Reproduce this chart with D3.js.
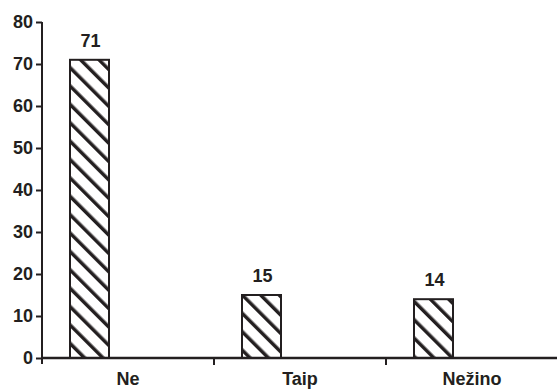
<!DOCTYPE html>
<html>
<head>
<meta charset="utf-8">
<script src="https://cdn.jsdelivr.net/npm/d3@7"></script>
<style>
  html, body { margin: 0; padding: 0; background: #fff; }
  svg { display: block; }
  text { font-family: "Liberation Sans", Arial, sans-serif; font-weight: bold; fill: #231f20; }
</style>
</head>
<body>
<svg id="chart" width="557" height="389"></svg>
<script>
// Survey answers and their counts
const categories = ["Ne", "Taip", "Nežino"];
const values = [71, 15, 14];
const yTicks = [0, 10, 20, 30, 40, 50, 60, 70, 80];

const width = 557, height = 389;
const margin = { left: 42, right: 0, top: 22, bottom: 31 };
const ink = "#231f20";
const fontSize = 18;

const svg = d3.select("#chart");

// Diagonal hatch fill for the bars
const defs = svg.append("defs");
const pat = defs.append("pattern")
  .attr("id", "hatch")
  .attr("patternUnits", "userSpaceOnUse")
  .attr("width", 13)
  .attr("height", 13)
  .attr("patternTransform", "rotate(-45)");
pat.append("rect").attr("width", 13).attr("height", 13).attr("fill", "#fff");
pat.append("line")
  .attr("x1", 0).attr("y1", 0).attr("x2", 0).attr("y2", 13)
  .attr("stroke", ink).attr("stroke-width", 7);

const x = d3.scaleBand()
  .domain(categories)
  .range([margin.left, width - margin.right + 1])
  .paddingInner(0).paddingOuter(0);

const y = d3.scaleLinear()
  .domain([0, 80])
  .range([height - margin.bottom, margin.top]);

const barOffset = 28, barWidth = 39;

// Bars
svg.append("g").selectAll("rect")
  .data(values)
  .join("rect")
  .attr("x", (d, i) => x(categories[i]) + barOffset)
  .attr("y", d => y(d))
  .attr("width", barWidth)
  .attr("height", d => y(0) - y(d))
  .attr("fill", "url(#hatch)")
  .attr("stroke", ink)
  .attr("stroke-width", 2);

// Value labels above bars
svg.append("g").selectAll("text")
  .data(values)
  .join("text")
  .attr("x", (d, i) => x(categories[i]) + barOffset + barWidth / 2 + 1)
  .attr("y", d => y(d) - 13)
  .attr("text-anchor", "middle")
  .attr("font-size", fontSize)
  .text(d => d);

// Y axis
const yAxis = svg.append("g")
  .attr("transform", `translate(${margin.left},0)`)
  .call(d3.axisLeft(y).tickValues(yTicks).tickSize(6).tickPadding(3).tickSizeOuter(0));
yAxis.select(".domain").attr("stroke", ink).attr("stroke-width", 2)
  .attr("d", `M0,${margin.top}V${y(0) + 6}`);
yAxis.selectAll(".tick line").attr("stroke", ink).attr("stroke-width", 2);
yAxis.selectAll(".tick text").attr("font-size", fontSize).attr("fill", ink)
  .attr("font-family", "Liberation Sans, Arial, sans-serif").attr("font-weight", "bold");

// X axis: baseline with ticks at category boundaries
const xAxis = svg.append("g")
  .attr("transform", `translate(0,${y(0)})`);
xAxis.append("line")
  .attr("x1", margin.left).attr("x2", width)
  .attr("y1", 0).attr("y2", 0)
  .attr("stroke", ink).attr("stroke-width", 2.5);
xAxis.selectAll("line.sep")
  .data(categories.slice(1))
  .join("line")
  .attr("class", "sep")
  .attr("x1", d => x(d)).attr("x2", d => x(d))
  .attr("y1", 0).attr("y2", 7)
  .attr("stroke", ink).attr("stroke-width", 2);
xAxis.selectAll("text")
  .data(categories)
  .join("text")
  .attr("x", d => x(d) + x.bandwidth() / 2)
  .attr("y", 27)
  .attr("text-anchor", "middle")
  .attr("font-size", fontSize)
  .text(d => d);
</script>
</body>
</html>
